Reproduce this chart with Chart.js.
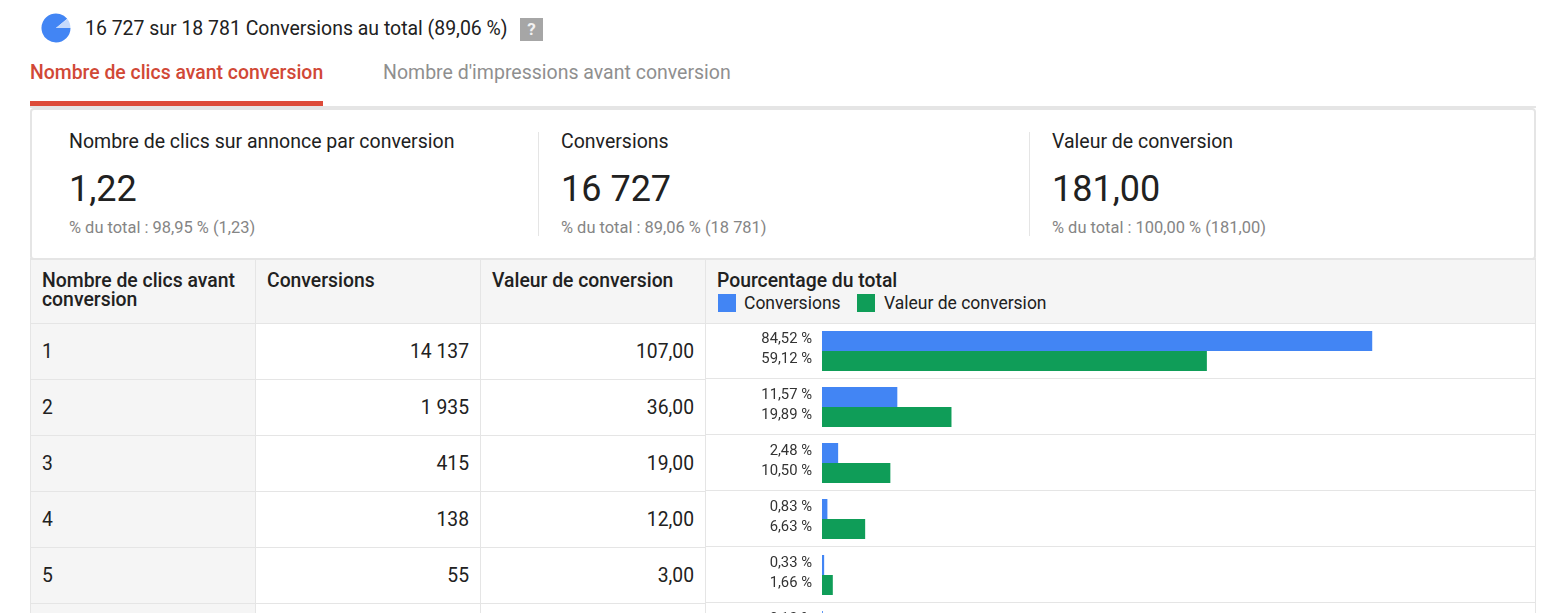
<!DOCTYPE html>
<html lang="fr"><head><meta charset="utf-8">
<script src="https://cdn.jsdelivr.net/npm/chart.js@4"></script>
<style>
html,body{margin:0;padding:0;width:1542px;height:613px;overflow:hidden;background:#fff;font-family:Roboto,sans-serif;color:#212121}
#page{position:absolute;left:0;top:0;width:1542px;height:613px;overflow:hidden}
.t{position:absolute;white-space:nowrap;line-height:24px;height:24px}
.b{position:absolute}
canvas{position:absolute}
</style></head><body>
<div id="page">
<div id="bg"></div>
<div style="position:absolute;left:38px;top:11px;width:36px;height:34px"><canvas id="pie"></canvas></div>
<div style="position:absolute;left:706px;top:323px;width:830px;height:336px"><canvas id="bars"></canvas></div>
</div>
<script>
const categories = ["1","2","3","4","5","6"];
const conversionsPct = [84.52,11.57,2.48,0.83,0.33,0.13];
const valuePct = [59.12,19.89,10.50,6.63,1.66,1.10];
const conversionsLabels = ["84,52 %","11,57 %","2,48 %","0,83 %","0,33 %","0,13 %"];
const valueLabels = ["59,12 %","19,89 %","10,50 %","6,63 %","1,66 %","1,10 %"];
const tableConversions = ["14 137","1 935","415","138","55"];
const tableValues = ["107,00","36,00","19,00","12,00","3,00"];
const piePct = [89.06,10.94];
const seriesNames = ["Conversions","Valeur de conversion"];
const BLUE="#4285f4", GREEN="#0f9d58", LINE="#e5e5e5", HEAD="#f5f5f5", DARK="#212121", GREY="#858585";

const page=document.getElementById('page'), bg=document.getElementById('bg');
function box(x,y,w,h,c,extra){const d=document.createElement('div');d.className='b';d.style.cssText=`left:${x}px;top:${y}px;width:${w}px;height:${h}px;background:${c};${extra||''}`;bg.appendChild(d);return d;}
function text(s,x,cy,size,color,weight,align){const d=document.createElement('div');d.className='t';d.textContent=s;
 d.style.top=(cy-12)+'px';d.style.fontSize=size+'px';d.style.color=color||DARK;d.style.fontWeight=weight||400;
 if(align==='right'){d.style.right=(1542-x)+'px';}else{d.style.left=x+'px';}
 page.appendChild(d);return d;}

const rowH=56, rowTop=323;
box(31,260,1505,63,HEAD);
box(31,324,224,289,HEAD);
[0,1,2,3,4,5].forEach(i=>{ box(705,i===0?rowTop:rowTop-1+rowH*i,831,1,LINE); box(30,rowTop+rowH*i,676,1,LINE); });
[30,255,480,705,1535].forEach(x=>box(x,259,1,354,LINE));
box(30,258,1506,2,LINE);
box(30,106,1506,2,LINE);
box(30,108,1506,152,"#fff",`box-sizing:border-box;border:2px solid ${LINE};border-radius:4px`);
box(538,132,1,104,LINE);
box(1029,132,1,104,LINE);
box(30,101,293,5,"#dd4b39");
box(520,18,23,23,"#a6a6a6");
box(718,294,18,18,BLUE);
box(857,294,18,18,GREEN);

// top line
text("16 727 sur 18 781 Conversions au total (89,06 %)",85,29,19.45);
const q=text("?",520,29,17,"#f2f2f2",700);q.style.width='23px';q.style.textAlign='center';
// tabs
text("Nombre de clics avant conversion",30,73,19.4,"#d14836",500);
text("Nombre d'impressions avant conversion",383,73,19.5,"#8f8f8f",400);
const kpis=[[69,"Nombre de clics sur annonce par conversion","1,22","% du total : 98,95 % (1,23)"],
 [561,"Conversions","16 727","% du total : 89,06 % (18 781)"],
 [1052,"Valeur de conversion","181,00","% du total : 100,00 % (181,00)"]];
kpis.forEach(k=>{text(k[1],k[0],142,19.5);text(k[2],k[0],189,36);text(k[3],k[0],228,16.45,GREY);});
// table header
text("Nombre de clics avant",42,281,19.4,DARK,500);
text("conversion",42,300,19.4,DARK,500);
text("Conversions",267,281,19.35,DARK,500);
text("Valeur de conversion",492,281,19.35,DARK,500);
text("Pourcentage du total",717,281,19.35,DARK,500);
text(seriesNames[0],744,303,17.5);
text(seriesNames[1],884,303,17.5);
// table rows
tableConversions.forEach((v,i)=>{
 const cy=rowTop+29+rowH*i;
 text(categories[i],42,cy,19.3);
 text(v,469,cy,19.3,DARK,400,'right');
 text(tableValues[i],694,cy,19.3,DARK,400,'right');
});

new Chart(document.getElementById('pie'),{type:'pie',
 data:{labels:["Sélection","Reste"],datasets:[{data:piePct,backgroundColor:[BLUE,"#c6dafc"],borderWidth:0}]},
 options:{responsive:true,maintainAspectRatio:false,animation:false,rotation:90,
  layout:{padding:2.5},plugins:{legend:{display:false},tooltip:{enabled:false}}}});

const pctLabels={id:'pctLabels',afterDatasetsDraw(c){
 const g=c.ctx,xr=c.scales.x.left-10;
 g.save();g.font='400 14.8px Roboto';g.fillStyle='#333333';g.textAlign='right';g.textBaseline='middle';
 [conversionsLabels,valueLabels].forEach((arr,d)=>{
  c.getDatasetMeta(d).data.forEach((el,i)=>g.fillText(arr[i],xr,el.y-2));
 });
 g.restore();}};

new Chart(document.getElementById('bars'),{type:'bar',plugins:[pctLabels],
 data:{labels:categories,datasets:[
  {label:seriesNames[0],data:conversionsPct,backgroundColor:BLUE},
  {label:seriesNames[1],data:valuePct,backgroundColor:GREEN}]},
 options:{indexAxis:'y',responsive:true,maintainAspectRatio:false,animation:false,
  layout:{padding:{left:116,right:63,top:0,bottom:0}},
  datasets:{bar:{barPercentage:1,categoryPercentage:40/56}},
  scales:{x:{display:false,min:0,max:100},y:{display:false}},
  plugins:{legend:{display:false},tooltip:{enabled:false}}}});
</script>
</body></html>
